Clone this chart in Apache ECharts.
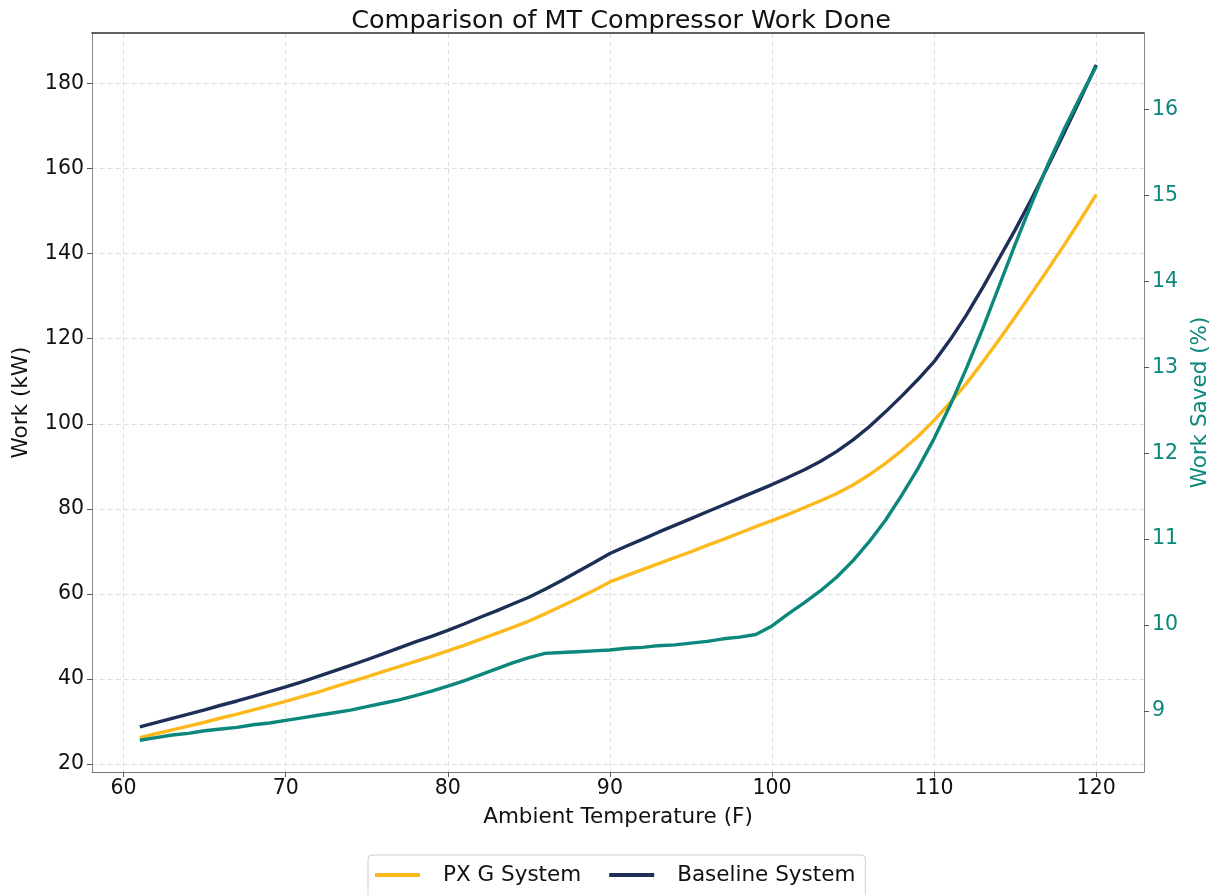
<!DOCTYPE html>
<html>
<head>
<meta charset="utf-8">
<title>Comparison of MT Compressor Work Done</title>
<script src="https://cdn.jsdelivr.net/npm/echarts@6/dist/echarts.min.js"></script>
<style>
  html, body { margin: 0; padding: 0; background: #fff; }
  #chart { width: 1210px; height: 895px; }
</style>
</head>
<body>
<div id="chart"></div>
<script>
// ambient temperature (F), one point per degree
var temps = [61, 62, 63, 64, 65, 66, 67, 68, 69, 70, 71, 72, 73, 74, 75, 76, 77, 78, 79, 80,
             81, 82, 83, 84, 85, 86, 87, 88, 89, 90, 91, 92, 93, 94, 95, 96, 97, 98, 99, 100,
             101, 102, 103, 104, 105, 106, 107, 108, 109, 110, 111, 112, 113, 114, 115, 116, 117, 118, 119, 120];
// work (kW)
var pxG = [26.2, 27.1, 28.0, 28.9, 29.8, 30.8, 31.7, 32.7, 33.7, 34.7, 35.8, 36.9, 38.1, 39.3, 40.5, 41.7, 42.9, 44.1, 45.3, 46.6,
           47.9, 49.3, 50.7, 52.1, 53.6, 55.3, 57.1, 58.9, 60.8, 62.8, 64.3, 65.7, 67.1, 68.5, 69.9, 71.4, 72.8, 74.3, 75.8, 77.2,
           78.7, 80.3, 81.9, 83.6, 85.6, 88.0, 90.7, 93.7, 97.0, 100.8, 105.0, 109.5, 114.5, 119.7, 125.1, 130.6, 136.2, 141.9, 147.8, 153.9];
var baseline = [28.7, 29.7, 30.7, 31.7, 32.7, 33.8, 34.8, 35.9, 37.0, 38.1, 39.3, 40.6, 41.9, 43.2, 44.5, 45.9, 47.3, 48.7, 50.0, 51.4,
                52.9, 54.5, 56.0, 57.6, 59.2, 61.1, 63.1, 65.2, 67.3, 69.5, 71.2, 72.8, 74.5, 76.1, 77.7, 79.3, 80.9, 82.5, 84.1, 85.7,
                87.4, 89.2, 91.2, 93.5, 96.2, 99.3, 102.8, 106.5, 110.4, 114.6, 119.8, 125.6, 132.0, 138.8, 145.6, 152.8, 160.4, 168.2, 176.2, 184.4];
// work saved (%)
var saved = [8.66, 8.69, 8.72, 8.74, 8.77, 8.79, 8.81, 8.84, 8.86, 8.89, 8.92, 8.95, 8.98, 9.01, 9.05, 9.09, 9.13, 9.18, 9.23, 9.29,
             9.35, 9.42, 9.49, 9.56, 9.62, 9.67, 9.68, 9.69, 9.70, 9.71, 9.73, 9.74, 9.76, 9.77, 9.79, 9.81, 9.84, 9.86, 9.89, 9.99,
             10.13, 10.26, 10.40, 10.56, 10.75, 10.97, 11.22, 11.51, 11.82, 12.17, 12.56, 12.99, 13.45, 13.94, 14.43, 14.90, 15.35, 15.76, 16.14, 16.50];

var navy = '#1d2f57', gold = '#fbb91c', teal = '#0b877b';
var font = 'DejaVu Sans';

function pairs(vals) {
  return temps.map(function (t, i) { return [t, vals[i]]; });
}

var chart = echarts.init(document.getElementById('chart'));
var option = {
  animation: false,
  textStyle: { fontFamily: font },
  title: {
    text: 'Comparison of MT Compressor Work Done',
    left: 616, textAlign: 'center', top: 3,
    textStyle: { fontSize: 25.5, fontWeight: 'normal', color: '#111', fontFamily: font }
  },
  legend: {
    data: ['PX G System', 'Baseline System'],
    left: 368, top: 855,
    itemWidth: 45, itemHeight: 4, itemGap: 28,
    icon: 'rect',
    padding: [9, 10, 20, 7],
    borderColor: '#cfcfcf', borderWidth: 1, borderRadius: 4,
    textStyle: { fontSize: 21.5, color: '#111', fontFamily: font, padding: [0, 0, 0, 18] }
  },
  grid: {
    left: 92, right: 66, top: 33, bottom: 123,
    outerBoundsMode: 'none', containLabel: false
  },
  xAxis: [{
    type: 'value', min: 58.05, max: 122.95,
    name: 'Ambient Temperature (F)', nameLocation: 'middle', nameGap: 34,
    nameTextStyle: { fontSize: 21.5, color: '#111', fontFamily: font },
    axisLine: { show: true, lineStyle: { color: '#777' } },
    axisTick: { show: true, length: 5, lineStyle: { color: '#555' } },
    axisLabel: { fontSize: 20.5, color: '#111', margin: 6, showMinLabel: false, showMaxLabel: false },
    splitLine: { show: true, lineStyle: { color: '#e0e0e0', type: [5, 3] } }
  }, {
    // top spine of the frame
    type: 'value', min: 58.05, max: 122.95, position: 'top',
    axisLine: { show: true, lineStyle: { color: '#333', width: 1.5 } },
    axisTick: { show: false }, axisLabel: { show: false }, splitLine: { show: false }
  }],
  yAxis: [{
    type: 'value', min: 18.1, max: 191.9, splitNumber: 8,
    name: 'Work (kW)', nameLocation: 'middle', nameGap: 60,
    nameTextStyle: { fontSize: 21.5, color: '#111', fontFamily: font },
    axisLine: { show: true, lineStyle: { color: '#888' } },
    axisTick: { show: true, length: 5, lineStyle: { color: '#555' } },
    axisLabel: { fontSize: 20.5, color: '#111', margin: 8, showMinLabel: false, showMaxLabel: false },
    splitLine: { show: true, lineStyle: { color: '#e0e0e0', type: [5, 3] } }
  }, {
    type: 'value', min: 8.29, max: 16.89, splitNumber: 8, position: 'right',
    name: 'Work Saved (%)', nameLocation: 'middle', nameGap: 36,
    nameTextStyle: { fontSize: 21.5, color: teal, fontFamily: font },
    axisLine: { show: true, lineStyle: { color: '#888' } },
    axisTick: { show: true, length: 5, lineStyle: { color: '#555' } },
    axisLabel: { fontSize: 20.5, color: teal, margin: 8, showMinLabel: false, showMaxLabel: false },
    splitLine: { show: false }
  }],
  series: [{
    name: 'PX G System', type: 'line', data: pairs(pxG),
    showSymbol: false, symbol: 'none',
    lineStyle: { color: gold, width: 3.4 }, itemStyle: { color: gold }, z: 2
  }, {
    name: 'Baseline System', type: 'line', data: pairs(baseline),
    showSymbol: false, symbol: 'none',
    lineStyle: { color: navy, width: 3.4 }, itemStyle: { color: navy }, z: 3
  }, {
    name: 'Work Saved', type: 'line', yAxisIndex: 1, data: pairs(saved),
    showSymbol: false, symbol: 'none',
    lineStyle: { color: teal, width: 3.4 }, itemStyle: { color: teal }, z: 4
  }]
};
chart.setOption(option);
</script>
</body>
</html>
